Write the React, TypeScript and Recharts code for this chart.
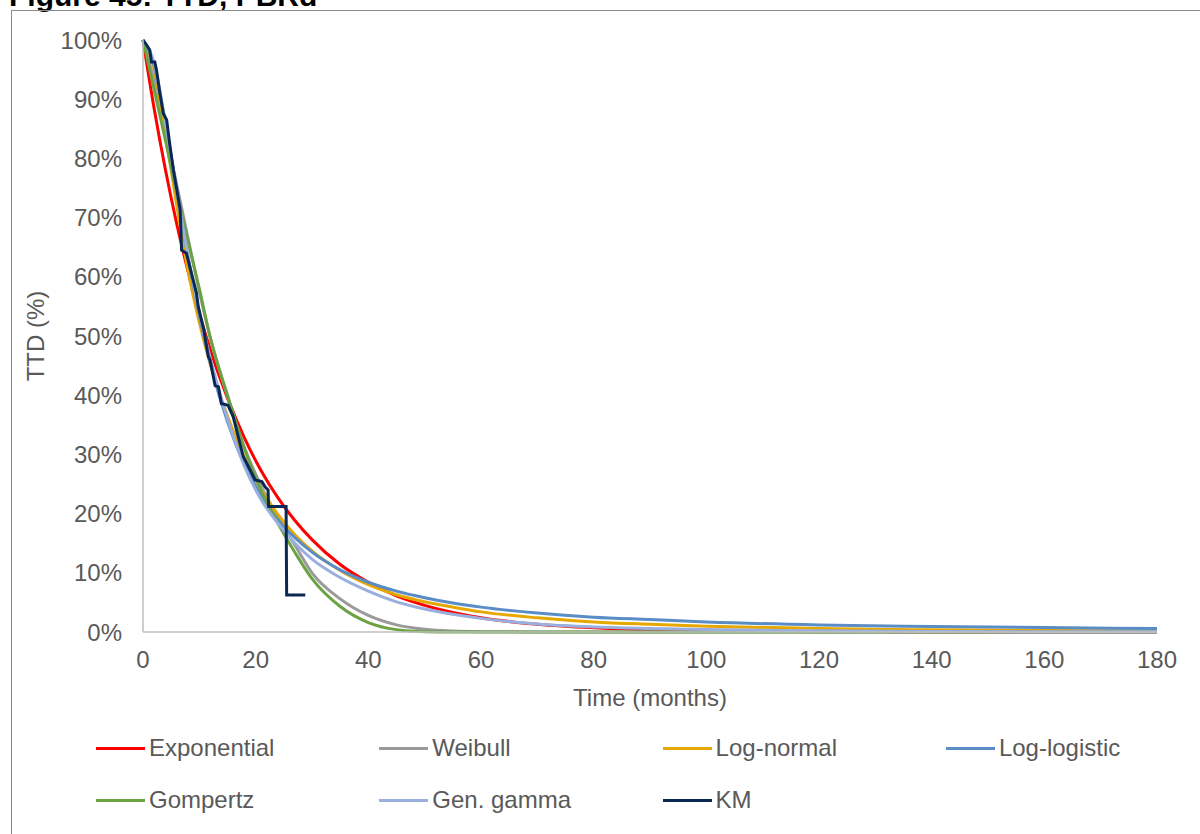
import React from 'react';
import { LineChart, Line, XAxis, YAxis } from 'recharts';

// shared time grid for the fitted curves (months)
const months = [0, 2, 4, 6, 8, 10, 12, 15, 18, 21, 24, 27, 30, 35, 40, 45, 50, 55, 60, 70, 80, 90, 100, 120, 140, 160, 180];

// survival (%)
const exponential = [100, 88.3, 78.0, 68.9, 60.9, 53.8, 47.5, 39.5, 32.8, 27.2, 22.6, 18.8, 15.6, 11.4, 8.4, 6.1, 4.5, 3.3, 2.4, 1.3, 0.7, 0.38, 0.2, 0.06, 0.02, 0.005, 0];
const weibull = [100, 93, 84.5, 75.5, 66.5, 57.5, 49.5, 39.8, 31.2, 24.6, 19.3, 14.6, 10, 5.6, 2.8, 1.2, 0.45, 0.15, 0.05, 0, 0, 0, 0, 0, 0, 0, 0];
const logNormal = [100, 95, 84, 72, 61, 52.3, 45, 36.5, 29.5, 24, 19.8, 16.4, 13.7, 10.4, 8.0, 6.3, 5.1, 4.2, 3.4, 2.4, 1.7, 1.3, 0.98, 0.59, 0.37, 0.25, 0.17];
const logLogistic = [100, 95.6, 85.9, 74.5, 63.3, 53.5, 45.2, 35.5, 28.3, 23.0, 18.9, 15.9, 13.5, 10.5, 8.4, 6.9, 5.8, 4.9, 4.2, 3.2, 2.5, 2.1, 1.7, 1.2, 0.93, 0.74, 0.6];
const gompertz = [100, 91.5, 83, 74, 66, 58, 49.5, 40, 31, 23.8, 18.3, 13.4, 9, 4.3, 1.6, 0.4, 0.05, 0, 0, 0, 0, 0, 0, 0, 0, 0, 0];
const genGamma = [100, 96, 86, 74.5, 63.5, 54, 46, 36, 28, 22.3, 18.3, 15, 12.3, 9.2, 6.9, 5.1, 3.9, 3.0, 2.3, 1.35, 0.85, 0.6, 0.42, 0.2, 0.1, 0.05, 0.03];

// Kaplan-Meier, traced corner by corner
const kmTime = [0, 0.6, 1.2, 1.5, 2.1, 2.4, 3.0, 3.6, 4.2, 4.8, 5.4, 6.0, 6.6, 6.85, 7.7, 8.3, 8.9, 9.5, 9.8, 10.8, 11.6, 11.9, 12.8, 13.4, 13.9, 15.1, 16.0, 16.9, 17.8, 19.0, 19.9, 21.1, 21.7, 22.2, 22.3, 25.4, 25.5, 28.8];
const kmSurv = [100, 99.2, 98.3, 96.3, 96.3, 94.9, 91, 87.6, 86.5, 82, 78, 74.7, 71.3, 64.5, 64.0, 61.7, 59.5, 57.2, 55, 51, 46.5, 46, 41.6, 41.4, 38.6, 38.3, 36.4, 33, 29.6, 27.4, 25.7, 25.4, 24.5, 24.0, 21.2, 21.2, 6.25, 6.25];

const xTicks = [0, 20, 40, 60, 80, 100, 120, 140, 160, 180];
const yTicks = [0, 10, 20, 30, 40, 50, 60, 70, 80, 90, 100];

const series = [
  { key: 'exponential', name: 'Exponential', color: '#FF0000' },
  { key: 'weibull', name: 'Weibull', color: '#9A9A9A' },
  { key: 'logNormal', name: 'Log-normal', color: '#E6A800' },
  { key: 'logLogistic', name: 'Log-logistic', color: '#5A8CC6' },
  { key: 'gompertz', name: 'Gompertz', color: '#6BA343' },
  { key: 'genGamma', name: 'Gen. gamma', color: '#99AFDE' },
  { key: 'km', name: 'KM', color: '#0B2855' },
];

const modelData = months.map((t, i) => ({
  t,
  exponential: exponential[i],
  weibull: weibull[i],
  logNormal: logNormal[i],
  logLogistic: logLogistic[i],
  gompertz: gompertz[i],
  genGamma: genGamma[i],
}));

const kmData = kmTime.map((t, i) => ({ t, km: kmSurv[i] }));

const font = 'Arial, "Liberation Sans", sans-serif';
const textColor = '#595959';
const fs = 24;

function ChartLegend() {
  const rows = [series.slice(0, 4), series.slice(4)];
  return (
    <div style={{ position: 'absolute', left: 96, top: 722, fontFamily: font, fontSize: fs, color: textColor }}>
      {rows.map((row, r) => (
        <div key={r} style={{ display: 'flex', height: 52, alignItems: 'center' }}>
          {row.map((s) => (
            <div key={s.key} style={{ width: 283.3, display: 'flex', alignItems: 'center', whiteSpace: 'nowrap' }}>
              <span style={{ display: 'inline-block', width: 49, height: 3, background: s.color, marginRight: 4 }} />
              <span>{s.name}</span>
            </div>
          ))}
        </div>
      ))}
    </div>
  );
}

export default function App() {
  return (
    <div style={{ position: 'absolute', left: 0, top: 0, width: 1200, height: 834, overflow: 'hidden', background: '#fff' }}>
      <div
        style={{
          position: 'absolute', left: 9, top: -19, fontFamily: font, fontWeight: 'bold',
          fontSize: 30, lineHeight: '30px', color: '#000', whiteSpace: 'nowrap',
        }}
      >
        Figure 45: TTD, PBRd
      </div>
      <div style={{ position: 'absolute', left: 11, top: 10, width: 1300, height: 900, borderLeft: '1px solid #8a8a8a', borderTop: '1px solid #8a8a8a' }} />
      <div style={{ position: 'absolute', left: 0, top: 0 }}>
        <LineChart width={1200} height={834} data={modelData} margin={{ top: 40, right: 43, bottom: 122, left: 0 }}>
          <XAxis
            dataKey="t"
            type="number"
            domain={[0, 180]}
            ticks={xTicks}
            tickLine={false}
            tickSize={0}
            tickMargin={19}
            height={80}
            stroke="#BFBFBF"
            strokeWidth={1.5}
            tick={{ fill: textColor, fontSize: fs, fontFamily: font }}
            label={{ value: 'Time (months)', position: 'insideBottom', offset: 6, fill: textColor, fontSize: fs, fontFamily: font }}
          />
          <YAxis
            type="number"
            domain={[0, 100]}
            ticks={yTicks}
            width={143}
            tickLine={false}
            tickSize={0}
            tickMargin={21}
            stroke="#BFBFBF"
            strokeWidth={1.5}
            tickFormatter={(v: number) => `${v}%`}
            tick={{ fill: textColor, fontSize: fs, fontFamily: font }}
            label={{
              value: 'TTD (%)', angle: -90, position: 'insideLeft', offset: 35,
              fill: textColor, fontSize: fs, fontFamily: font, style: { textAnchor: 'middle' },
            }}
          />
          {series.slice(0, 6).map((s) => (
            <Line
              key={s.key}
              type="monotone"
              dataKey={s.key}
              name={s.name}
              stroke={s.color}
              strokeWidth={3}
              dot={false}
              isAnimationActive={false}
            />
          ))}
          <Line
            data={kmData}
            type="linear"
            dataKey="km"
            name="KM"
            stroke="#0B2855"
            strokeWidth={3}
            dot={false}
            isAnimationActive={false}
          />
        </LineChart>
      </div>
      <ChartLegend />
    </div>
  );
}
